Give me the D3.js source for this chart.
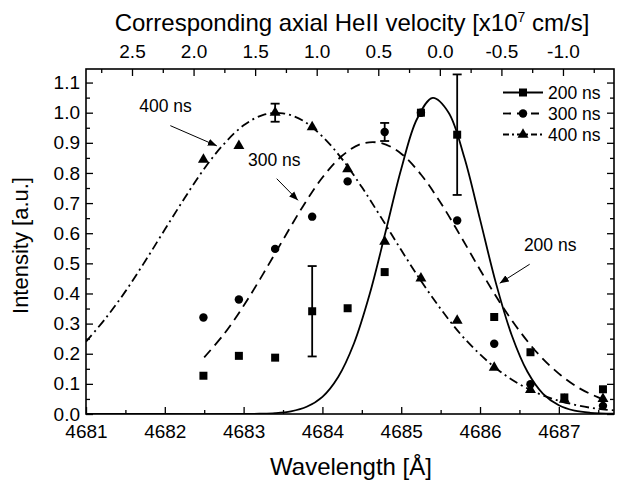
<!DOCTYPE html>
<html>
<head>
<meta charset="utf-8">
<script src="https://cdn.jsdelivr.net/npm/d3@7"></script>
<style>
	body { margin: 0; background: #fff; }
	text { font-family: "Liberation Sans", Arial, sans-serif; fill: #000; }
</style>
</head>
<body>
<div id="chart1"></div>
<script>
// measured points (normalised intensity)
var wavelengths = [4682.49, 4682.94, 4683.40, 4683.87, 4684.32, 4684.79, 4685.25, 4685.71, 4686.18, 4686.64, 4687.07, 4687.56];
var int200 = [0.127, 0.193, 0.187, 0.341, 0.351, 0.471, 1.000, 0.927, 0.322, 0.205, 0.055, 0.082];
var int300 = [0.320, 0.380, 0.548, 0.655, 0.772, 0.936, 1.000, 0.642, 0.233, 0.099, null, 0.027];
var int400 = [0.844, 0.890, 1.000, 0.952, 0.813, 0.572, 0.450, 0.310, 0.154, 0.080, 0.048, 0.050];

// error bars: [wavelength, value, half height]
var err200 = [[4683.87, 0.341, 0.15], [4685.71, 0.927, 0.20]];
var err300 = [[4684.79, 0.936, 0.03]];
var err400 = [[4683.40, 1.000, 0.03]];

// fitted curves
var fit200Wl = [4681.0, 4682.0, 4683.0, 4683.2, 4683.4, 4683.6, 4683.8, 4684.0, 4684.2, 4684.4, 4684.6, 4684.8, 4685.0,
	4685.2, 4685.4, 4685.6, 4685.8, 4686.0, 4686.2, 4686.4, 4686.6, 4686.8, 4687.0, 4687.2, 4687.4, 4687.7];
var fit200 = [0, 0, 0.000, 0.001, 0.003, 0.009, 0.024, 0.057, 0.123, 0.234, 0.398, 0.603, 0.813,
	0.979, 1.049, 1.001, 0.852, 0.646, 0.436, 0.263, 0.141, 0.067, 0.029, 0.011, 0.004, 0.001];

var fit300Wl = [4682.5, 4682.75, 4683.0, 4683.25, 4683.5, 4683.75, 4684.0, 4684.25, 4684.5, 4684.75, 4685.0,
	4685.25, 4685.5, 4685.75, 4686.0, 4686.25, 4686.5, 4686.75, 4687.0, 4687.25, 4687.5, 4687.6];
var fit300 = [0.188, 0.265, 0.359, 0.466, 0.578, 0.688, 0.785, 0.857, 0.897, 0.899, 0.864,
	0.795, 0.701, 0.592, 0.479, 0.371, 0.276, 0.196, 0.134, 0.087, 0.055, 0.045];

var fit400Wl = [4681.0, 4681.25, 4681.5, 4681.75, 4682.0, 4682.25, 4682.5, 4682.75, 4683.0, 4683.25, 4683.5,
	4683.75, 4684.0, 4684.25, 4684.5, 4684.75, 4685.0, 4685.25, 4685.5, 4685.75, 4686.0, 4686.25,
	4686.5, 4686.75, 4687.0, 4687.25, 4687.5, 4687.7];
var fit400 = [0.240, 0.318, 0.407, 0.507, 0.612, 0.716, 0.814, 0.896, 0.958, 0.993, 0.998,
	0.974, 0.921, 0.846, 0.753, 0.650, 0.544, 0.442, 0.349, 0.266, 0.198, 0.142,
	0.099, 0.067, 0.044, 0.028, 0.017, 0.012];

var seriesNames = ["200 ns", "300 ns", "400 ns"];
var xTicks = [4681, 4682, 4683, 4684, 4685, 4686, 4687];
var yTicks = [0.0, 0.1, 0.2, 0.3, 0.4, 0.5, 0.6, 0.7, 0.8, 0.9, 1.0, 1.1];
var vTicks = [2.5, 2.0, 1.5, 1.0, 0.5, 0.0, -0.5, -1.0];

// HeII line centre and Angstrom per 1e7 cm/s, for the top axis
var lambda0 = 4685.49, dispersion = 1.5625;

// annotation labels: [text, label wl, label y, arrow from wl, y, arrow to wl, y]
var notes = [
	["400 ns", 4682.01, 1.021, 4682.07, 0.957, 4682.66, 0.890],
	["300 ns", 4683.39, 0.842, 4683.42, 0.781, 4683.69, 0.709],
	["200 ns", 4686.89, 0.561, 4686.63, 0.497, 4686.25, 0.434]
];

draw_chart();

function draw_chart() {
	var width = 617, height = 485;
	var left = 86, right = 614, top = 69, bottom = 414;

	var svg = d3.select('#chart1')
		.append("svg")
		.attr("width", width)
		.attr("height", height)
		;

	var x = d3.scaleLinear().domain([4681, 4687.7]).range([left, right]);
	var y = d3.scaleLinear().domain([0, 1.145]).range([bottom, top]);
	var xv = d3.scaleLinear()
		.domain([(lambda0 - 4681) / dispersion, (lambda0 - 4687.7) / dispersion])
		.range([left, right]);

	var fmt = function (d) { return d.toFixed(1); };
	var tickFont = 19;

	function style_axis(g) {
		g.select(".domain").remove();
		g.selectAll(".tick line").attr("stroke", "#000").attr("stroke-width", 1.3);
		g.selectAll("text").style("font-size", tickFont + "px").attr("fill", "#000");
	}

	// minor ticks first
	svg.append("g")
		.attr("transform", "translate(0," + bottom + ")")
		.call(d3.axisBottom(x).tickValues(d3.range(4681.5, 4687.7, 1)).tickSize(-4).tickFormat(""))
		.call(style_axis);
	svg.append("g")
		.attr("transform", "translate(0," + top + ")")
		.call(d3.axisTop(xv).tickValues(d3.range(2.75, -1.5, -0.5)).tickSize(-4).tickFormat(""))
		.call(style_axis);
	var yMinor = d3.range(0.05, 1.15, 0.1);
	svg.append("g")
		.attr("transform", "translate(" + left + ",0)")
		.call(d3.axisLeft(y).tickValues(yMinor).tickSize(-4).tickFormat(""))
		.call(style_axis);
	svg.append("g")
		.attr("transform", "translate(" + right + ",0)")
		.call(d3.axisRight(y).tickValues(yMinor).tickSize(-4).tickFormat(""))
		.call(style_axis);

	// major ticks
	svg.append("g")
		.attr("transform", "translate(0," + bottom + ")")
		.call(d3.axisBottom(x).tickValues(xTicks).tickSize(-7).tickPadding(11).tickFormat(d3.format("d")))
		.call(style_axis);
	svg.append("g")
		.attr("transform", "translate(0," + top + ")")
		.call(d3.axisTop(xv).tickValues(vTicks).tickSize(-7).tickPadding(11).tickFormat(fmt))
		.call(style_axis);
	svg.append("g")
		.attr("transform", "translate(" + left + ",0)")
		.call(d3.axisLeft(y).tickValues(yTicks).tickSize(-7).tickPadding(6).tickFormat(fmt))
		.call(style_axis);
	svg.append("g")
		.attr("transform", "translate(" + right + ",0)")
		.call(d3.axisRight(y).tickValues(yTicks).tickSize(-7).tickFormat(""))
		.call(style_axis);

	// frame
	svg.append("rect")
		.attr("x", left).attr("y", top)
		.attr("width", right - left).attr("height", bottom - top)
		.attr("fill", "none").attr("stroke", "#000").attr("stroke-width", 1.6)
		;

	// axis titles
	svg.append("text")
		.attr("x", 351).attr("y", 475)
		.attr("text-anchor", "middle")
		.style("font-size", "24px")
		.text("Wavelength [\u00c5]");

	svg.append("text")
		.attr("transform", "translate(28," + ((top + bottom) / 2 + 4) + ") rotate(-90)")
		.attr("text-anchor", "middle")
		.style("font-size", "22px")
		.text("Intensity [a.u.]");

	var tt = svg.append("text")
		.attr("x", 352).attr("y", 31)
		.attr("text-anchor", "middle")
		.style("font-size", "24px")
		;
	tt.append("tspan").text("Corresponding axial HeII velocity [x10");
	tt.append("tspan").attr("dy", -9).style("font-size", "14px").text("7");
	tt.append("tspan").attr("dy", 9).text(" cm/s]");

	// clip for curves
	svg.append("clipPath").attr("id", "plotclip")
		.append("rect").attr("x", left).attr("y", top)
		.attr("width", right - left).attr("height", bottom - top);

	var line = d3.line()
		.x(function (d) { return x(d[0]); })
		.y(function (d) { return y(d[1]); })
		.curve(d3.curveCatmullRom.alpha(0.5))
		;

	var dashes = ["none", "10,6", "9,4,2,4"];
	var fits = [d3.zip(fit200Wl, fit200), d3.zip(fit300Wl, fit300), d3.zip(fit400Wl, fit400)];

	svg.append("g").attr("clip-path", "url(#plotclip)")
		.selectAll("path")
		.data(fits)
		.enter().append("path")
		.attr("d", line)
		.attr("fill", "none")
		.attr("stroke", "#000")
		.attr("stroke-width", 1.8)
		.attr("stroke-dasharray", function (d, i) { return dashes[i]; })
		;

	// error bars
	var errs = err200.concat(err300, err400);
	var eb = svg.append("g").selectAll("g")
		.data(errs)
		.enter().append("g")
		.attr("stroke", "#000")
		.attr("stroke-width", 1.8)
		;
	eb.append("line")
		.attr("x1", function (d) { return x(d[0]); })
		.attr("x2", function (d) { return x(d[0]); })
		.attr("y1", function (d) { return y(d[1] - d[2]); })
		.attr("y2", function (d) { return y(d[1] + d[2]); });
	eb.append("line")
		.attr("x1", function (d) { return x(d[0]) - 4.5; })
		.attr("x2", function (d) { return x(d[0]) + 4.5; })
		.attr("y1", function (d) { return y(d[1] - d[2]); })
		.attr("y2", function (d) { return y(d[1] - d[2]); });
	eb.append("line")
		.attr("x1", function (d) { return x(d[0]) - 4.5; })
		.attr("x2", function (d) { return x(d[0]) + 4.5; })
		.attr("y1", function (d) { return y(d[1] + d[2]); })
		.attr("y2", function (d) { return y(d[1] + d[2]); });

	// markers
	var symbols = [d3.symbol().type(d3.symbolSquare).size(64),
		d3.symbol().type(d3.symbolCircle).size(56),
		d3.symbol().type(d3.symbolTriangle).size(52)];
	var allVals = [int200, int300, int400];

	allVals.forEach(function (vals, i) {
		var pts = d3.zip(wavelengths, vals).filter(function (d) { return d[1] !== null; });
		svg.append("g").selectAll("path")
			.data(pts)
			.enter().append("path")
			.attr("d", symbols[i])
			.attr("transform", function (d) { return "translate(" + x(d[0]) + "," + y(d[1]) + ")"; })
			.attr("fill", "#000")
			;
	});

	// legend
	var lg = svg.append("g").selectAll("g")
		.data(seriesNames)
		.enter().append("g")
		.attr("transform", function (d, i) { return "translate(503," + (92.5 + i * 21) + ")"; })
		;
	lg.append("line")
		.attr("x1", 0).attr("x2", 40)
		.attr("stroke", "#000").attr("stroke-width", 1.8)
		.attr("stroke-dasharray", function (d, i) { return i == 0 ? "none" : (i == 1 ? "8,6" : "6,3,2,3"); });
	lg.append("path")
		.attr("d", function (d, i) { return symbols[i](); })
		.attr("transform", "translate(20,0)")
		.attr("fill", "#000");
	lg.append("text")
		.attr("x", 45).attr("y", 6)
		.style("font-size", "17.5px")
		.text(function (d) { return d; });

	// annotations with arrows
	svg.append("defs").append("marker")
		.attr("id", "arrow")
		.attr("viewBox", "0 0 10 10")
		.attr("refX", 10).attr("refY", 5)
		.attr("markerWidth", 9).attr("markerHeight", 9)
		.attr("markerUnits", "userSpaceOnUse")
		.attr("orient", "auto")
		.append("path")
		.attr("d", "M0,1 L10,5 L0,9 z")
		.attr("fill", "#000");

	var an = svg.append("g").selectAll("g")
		.data(notes)
		.enter().append("g");
	an.append("text")
		.attr("x", function (d) { return x(d[1]); })
		.attr("y", function (d) { return y(d[2]) + 6; })
		.attr("text-anchor", "middle")
		.style("font-size", "17.5px")
		.text(function (d) { return d[0]; });
	an.append("line")
		.attr("x1", function (d) { return x(d[3]); })
		.attr("y1", function (d) { return y(d[4]); })
		.attr("x2", function (d) { return x(d[5]); })
		.attr("y2", function (d) { return y(d[6]); })
		.attr("stroke", "#000").attr("stroke-width", 1)
		.attr("marker-end", "url(#arrow)");
}
</script>
</body>
</html>
